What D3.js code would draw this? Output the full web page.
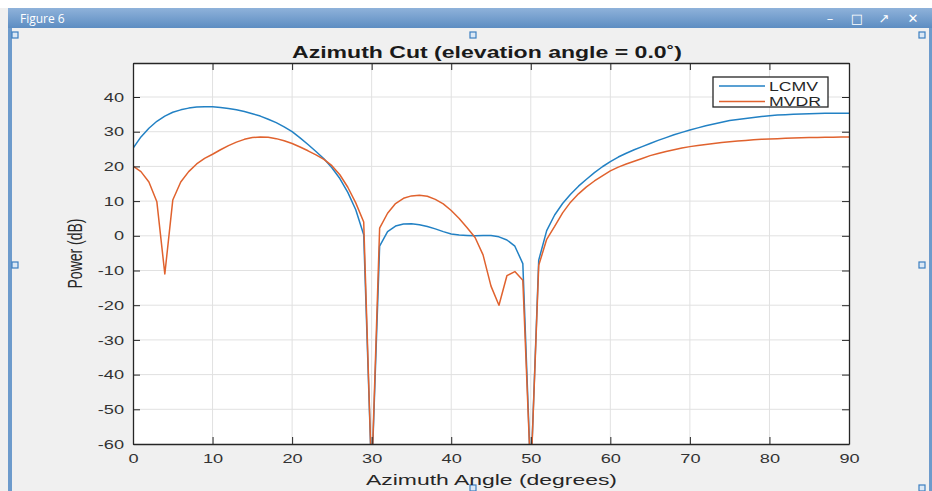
<!DOCTYPE html>
<html>
<head>
<meta charset="utf-8">
<script src="https://cdn.jsdelivr.net/npm/d3@7"></script>
<style>
  body { margin: 0; background: #f0f0f0; }
  svg { display: block; font-family: "Liberation Sans", Arial, sans-serif; }
  .axis text { font-size: 13px; fill: #333; }
  .axis path, .axis line { stroke: #262626; }
</style>
</head>
<body>
<div id="fig"></div>
<script>
var angles = [0,1,2,3,4,5,6,7,8,9,10,11,12,13,14,15,16,17,18,19,20,21,22,23,24,25,26,27,28,29,
  30,31,32,33,34,35,36,37,38,39,40,41,42,43,44,45,46,47,48,49,50,51,52,53,54,55,56,57,58,59,
  60,61,62,63,64,65,66,67,68,69,70,71,72,73,74,75,76,77,78,79,80,81,82,83,84,85,86,87,88,89,90];

var lcmv = [25.2,28.5,31.0,33.0,34.5,35.6,36.3,36.8,37.1,37.2,37.2,37.0,36.7,36.3,35.8,35.2,34.5,33.6,32.6,31.4,
  30.0,28.2,26.3,24.3,22.2,19.6,16.5,12.5,7.5,0.3,
  -70,-3.0,1.2,2.8,3.4,3.5,3.2,2.7,2.0,1.2,0.5,0.2,0.1,0.0,0.1,0.1,-0.3,-1.2,-3.0,-8.0,
  -70,-7.0,1.5,6.0,9.3,12.0,14.3,16.3,18.2,19.9,
  21.4,22.7,23.8,24.8,25.7,26.6,27.5,28.3,29.1,29.8,30.5,31.1,31.7,32.2,32.7,33.2,33.5,33.8,34.1,34.4,
  34.6,34.8,34.9,35.0,35.1,35.2,35.25,35.3,35.3,35.35,35.35];

var mvdr = [20.1,18.5,15.5,9.8,-11,10.3,15.5,18.5,20.7,22.3,23.5,24.8,26.0,27.0,27.8,28.3,28.5,28.4,28.0,27.4,
  26.6,25.6,24.5,23.3,22.0,20.2,17.6,14.0,9.5,4.0,
  -70,2.2,6.5,9.3,10.8,11.5,11.7,11.4,10.5,9.2,7.3,5.0,2.3,-0.5,-5.5,-14.5,-20,-11.5,-10.3,-12.8,
  -70,-8.5,-1.0,2.7,6.6,9.7,12.1,14.1,15.8,17.3,
  18.7,19.8,20.7,21.5,22.3,23.1,23.7,24.3,24.8,25.3,25.7,26.0,26.3,26.6,26.9,27.1,27.3,27.5,27.7,27.8,
  27.9,28.0,28.1,28.2,28.25,28.3,28.35,28.4,28.4,28.45,28.45];

var series_names = ["LCMV", "MVDR"];
var series_colors = ["#2281c4", "#e0622e"];
var x_ticks = [0,10,20,30,40,50,60,70,80,90];
var y_ticks = [-60,-50,-40,-30,-20,-10,0,10,20,30,40];

var W = 932, H = 491;
var stretch = 1.4; // text in the screenshot is wider than it is tall

var x_ax = d3.scaleLinear().domain([0, 90]).range([133, 849]);
var y_ax = d3.scaleLinear().domain([-60, 49.8]).range([444, 63]);

var svg = d3.select("#fig").append("svg")
  .attr("width", W)
  .attr("height", H);

// window chrome
var defs = svg.append("defs");
var grad = defs.append("linearGradient").attr("id", "bar").attr("x1", 0).attr("y1", 0).attr("x2", 0).attr("y2", 1);
grad.append("stop").attr("offset", "0%").attr("stop-color", "#8fb2da");
grad.append("stop").attr("offset", "100%").attr("stop-color", "#5d8dc2");
defs.append("clipPath").attr("id", "plotclip").append("rect")
  .attr("x", x_ax(0)).attr("y", y_ax(49.8))
  .attr("width", x_ax(90) - x_ax(0)).attr("height", y_ax(-60) - y_ax(49.8));

svg.append("rect").attr("x", 0).attr("y", 0).attr("width", W).attr("height", 8).attr("fill", "#fff");
svg.append("rect").attr("x", 8).attr("y", 8).attr("width", W - 8).attr("height", 20).attr("fill", "url(#bar)");
svg.append("rect").attr("x", 8).attr("y", 28).attr("width", 4).attr("height", H - 28).attr("fill", "#6d9bcc");
svg.append("rect").attr("x", 929).attr("y", 28).attr("width", 3).attr("height", H - 28).attr("fill", "#6d9bcc");
svg.append("text").attr("x", 20).attr("y", 23).attr("fill", "#fff")
  .style("font-size", "12px").style("font-family", "'Open Sans', sans-serif").text("Figure 6");

var icons = [["\u2013", 830], ["\u25A1", 857], ["\u2197", 884], ["\u2715", 913]];
svg.selectAll(".icon").data(icons).enter().append("text")
  .attr("class", "icon")
  .attr("x", function(d) { return d[1]; })
  .attr("y", 23)
  .attr("text-anchor", "middle")
  .attr("fill", "#fff")
  .style("font-size", "13px")
  .style("font-family", "'DejaVu Sans', sans-serif")
  .text(function(d) { return d[0]; });

var handles = [[15, 35], [473, 35], [922, 35], [15, 265], [922, 265], [473, 488], [922, 488]];
svg.selectAll(".handle").data(handles).enter().append("rect")
  .attr("class", "handle")
  .attr("x", function(d) { return d[0] - 3; })
  .attr("y", function(d) { return d[1] - 3; })
  .attr("width", 6).attr("height", 6)
  .attr("fill", "#dbe8f5").attr("stroke", "#3c7fc0").attr("stroke-width", 1.2);

// plot area
svg.append("rect")
  .attr("x", x_ax(0)).attr("y", y_ax(49.8))
  .attr("width", x_ax(90) - x_ax(0)).attr("height", y_ax(-60) - y_ax(49.8))
  .attr("fill", "#fff");

svg.selectAll(".vgrid").data(x_ticks.slice(1, -1)).enter().append("line")
  .attr("class", "vgrid")
  .attr("x1", function(d) { return x_ax(d); }).attr("x2", function(d) { return x_ax(d); })
  .attr("y1", y_ax(49.8)).attr("y2", y_ax(-60))
  .attr("stroke", "#e1e1e1");
svg.selectAll(".hgrid").data(y_ticks.slice(1)).enter().append("line")
  .attr("class", "hgrid")
  .attr("y1", function(d) { return y_ax(d); }).attr("y2", function(d) { return y_ax(d); })
  .attr("x1", x_ax(0)).attr("x2", x_ax(90))
  .attr("stroke", "#e1e1e1");

var line = d3.line()
  .x(function(d, i) { return x_ax(angles[i]); })
  .y(function(d) { return y_ax(d); });

var plot = svg.append("g").attr("clip-path", "url(#plotclip)");
[lcmv, mvdr].forEach(function(s, k) {
  plot.append("path")
    .attr("d", line(s))
    .attr("fill", "none")
    .attr("stroke", series_colors[k])
    .attr("stroke-width", 1.5)
    .attr("stroke-linejoin", "round");
});

// axes, ticks pointing inward on all four sides (plain hyphen for negatives, like MATLAB)
var plain = function(d) { return String(d); };
var gl = svg.append("g").attr("class", "axis")
  .attr("transform", "translate(" + x_ax(0) + ",0)")
  .call(d3.axisLeft(y_ax).tickValues(y_ticks).tickFormat(plain).tickSizeInner(-7).tickSizeOuter(0).tickPadding(9));
gl.selectAll("text").attr("x", -9 / stretch).attr("transform", "scale(" + stretch + ",1)");

var gb = svg.append("g").attr("class", "axis")
  .attr("transform", "translate(0," + y_ax(-60) + ")")
  .call(d3.axisBottom(x_ax).tickValues(x_ticks).tickFormat(plain).tickSizeInner(-7).tickSizeOuter(0).tickPadding(10));
gb.selectAll("text").attr("transform", "scale(" + stretch + ",1)");

svg.append("g").attr("class", "axis")
  .attr("transform", "translate(" + x_ax(90) + ",0)")
  .call(d3.axisRight(y_ax).tickValues(y_ticks).tickSizeInner(-7).tickSizeOuter(0).tickFormat(""));
svg.append("g").attr("class", "axis")
  .attr("transform", "translate(0," + y_ax(49.8) + ")")
  .call(d3.axisTop(x_ax).tickValues(x_ticks).tickSizeInner(-7).tickSizeOuter(0).tickFormat(""));
svg.selectAll(".axis .domain").attr("stroke-width", 1.3);

// labels
svg.append("text")
  .attr("x", 292).attr("y", 57.5)
  .attr("textLength", 390).attr("lengthAdjust", "spacingAndGlyphs")
  .style("font-size", "16px").style("font-weight", "bold").attr("fill", "#1a1a1a")
  .text("Azimuth Cut (elevation angle = 0.0\u02DA)");

svg.append("text")
  .attr("x", 366).attr("y", 485)
  .attr("textLength", 251).attr("lengthAdjust", "spacingAndGlyphs")
  .style("font-size", "15px").attr("fill", "#262626")
  .text("Azimuth Angle (degrees)");

svg.append("text")
  .attr("transform", "translate(82,253.5) scale(" + stretch + ",1) rotate(-90)")
  .attr("text-anchor", "middle")
  .style("font-size", "14px").attr("fill", "#262626")
  .text("Power (dB)");

// legend
var legend = svg.append("g");
legend.append("rect")
  .attr("x", 713).attr("y", 77).attr("width", 115).attr("height", 30)
  .attr("fill", "#fff").attr("stroke", "#262626").attr("stroke-width", 1.3);
var legend_rows = legend.selectAll(".row").data(series_names).enter().append("g")
  .attr("class", "row")
  .attr("transform", function(d, i) { return "translate(0," + (86 + i * 15.5) + ")"; });
legend_rows.append("line")
  .attr("x1", 719).attr("x2", 765)
  .attr("stroke", function(d, i) { return series_colors[i]; })
  .attr("stroke-width", 1.5);
legend_rows.append("text")
  .attr("x", 769).attr("y", 4.5)
  .attr("textLength", function(d) { return d == "LCMV" ? 49 : 52; })
  .attr("lengthAdjust", "spacingAndGlyphs")
  .style("font-size", "12.5px").attr("fill", "#262626")
  .text(function(d) { return d; });
</script>
</body>
</html>
